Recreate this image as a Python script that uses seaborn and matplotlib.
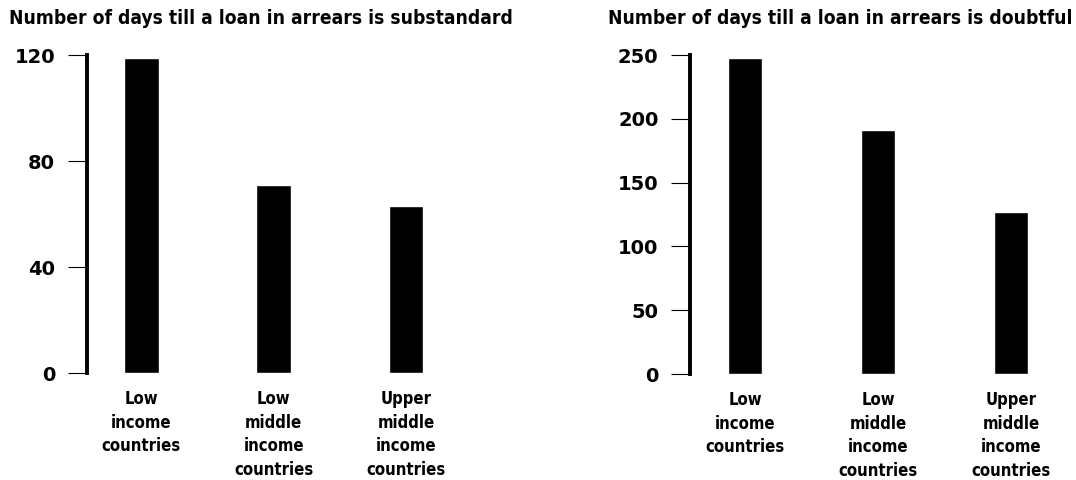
import matplotlib
matplotlib.use("Agg")
import matplotlib.pyplot as plt
import seaborn as sns
import pandas as pd

# data
groups = ["Low\nincome\ncountries", "Low\nmiddle\nincome\ncountries", "Upper\nmiddle\nincome\ncountries"]
days_substandard = [119, 71, 63]
days_doubtful = [248, 191, 127]

sns.set_theme(style="white")
plt.rcParams['font.family'] = ['DejaVu Sans']
plt.rcParams['font.weight'] = 'bold'
plt.rcParams['text.color'] = 'black'
plt.rcParams['xtick.color'] = 'black'
plt.rcParams['ytick.color'] = 'black'

fig = plt.figure(figsize=(10.76, 4.8), dpi=100)
ax1 = fig.add_axes([0.0809, 0.2229, 0.3457, 0.6625])
ax2 = fig.add_axes([0.6417, 0.2208, 0.3473, 0.6646])

panels = [
    (ax1, days_substandard, "Number of days till a loan in arrears is substandard", [0, 40, 80, 120], 120),
    (ax2, days_doubtful, "Number of days till a loan in arrears is doubtful", [0, 50, 100, 150, 200, 250], 250),
]

for ax, vals, title, ticks, top in panels:
    df = pd.DataFrame({"group": groups, "days": vals})
    sns.barplot(data=df, x="group", y="days", order=groups, color="black",
                width=0.26, saturation=1, ax=ax)
    ax.set_xlim(-0.41, 2.4)
    ax.set_ylim(0, top)
    ax.set_yticks(ticks)
    ax.set_xlabel("")
    ax.set_ylabel("")
    for s in ["top", "right", "bottom"]:
        ax.spines[s].set_visible(False)
    ax.spines["left"].set_linewidth(2.8)
    ax.spines["left"].set_color("black")
    ax.tick_params(axis="y", length=14, width=0.8, color="black", pad=9,
                   labelsize=14, left=True, labelcolor="black")
    ax.tick_params(axis="x", length=0, pad=12, labelsize=12, labelcolor="black")
    for lab in ax.get_xticklabels():
        lab.set_linespacing(1.42)
        lab.set_fontweight("bold")
        lab.set_fontstretch("condensed")
        lab.set_verticalalignment("top")
    for lab in ax.get_yticklabels():
        lab.set_fontweight("bold")
    ax.grid(False)

fig.text(0.008, 0.962, panels[0][2], fontsize=13.8, fontweight="bold",
         fontstretch="condensed", va="center", ha="left")
fig.text(0.997, 0.962, panels[1][2], fontsize=13.8, fontweight="bold",
         fontstretch="condensed", va="center", ha="right")

fig.savefig("out.png", dpi=100, facecolor="white")
